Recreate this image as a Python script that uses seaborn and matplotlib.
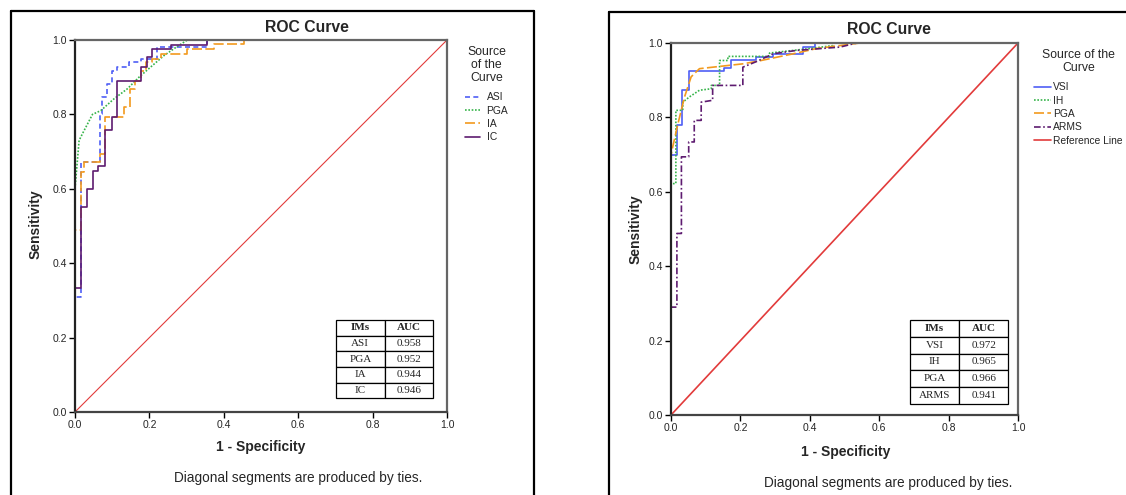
import matplotlib
matplotlib.use("Agg")
import matplotlib.pyplot as plt
import seaborn as sns
from matplotlib.lines import Line2D

# ---- left panel curves (vertices) ----
asi_fpr = [0, 0, 0.017, 0.017, 0.067, 0.067, 0.073, 0.073, 0.087, 0.087, 0.100, 0.100, 0.114, 0.114,
           0.145, 0.145, 0.177, 0.177, 0.221, 0.221, 0.356, 0.356, 1.0]
asi_tpr = [0, 0.31, 0.31, 0.672, 0.672, 0.80, 0.80, 0.846, 0.846, 0.882, 0.882, 0.918, 0.918, 0.927,
           0.927, 0.94, 0.94, 0.95, 0.95, 0.98, 0.98, 1.0, 1.0]
pga_l_fpr = [0, 0, 0.011, 0.020, 0.047, 0.069, 0.105, 0.141, 0.172, 0.203, 0.239, 0.271, 0.302, 1.0]
pga_l_tpr = [0, 0.60, 0.73, 0.748, 0.80, 0.81, 0.842, 0.869, 0.90, 0.927, 0.958, 0.98, 1.0, 1.0]
ia_fpr = [0, 0, 0.017, 0.017, 0.024, 0.024, 0.067, 0.067, 0.081, 0.081, 0.132, 0.132, 0.148, 0.148,
          0.160, 0.160, 0.177, 0.177, 0.190, 0.190, 0.208, 0.208, 0.230, 0.230, 0.302, 0.302, 0.374,
          0.374, 0.454, 0.454, 1.0]
ia_tpr = [0, 0.489, 0.489, 0.645, 0.645, 0.672, 0.672, 0.694, 0.694, 0.793, 0.793, 0.82, 0.82, 0.869,
          0.869, 0.891, 0.891, 0.918, 0.918, 0.94, 0.94, 0.95, 0.95, 0.962, 0.962, 0.977, 0.977,
          0.989, 0.989, 1.0, 1.0]
ic_fpr = [0, 0, 0.017, 0.017, 0.032, 0.032, 0.048, 0.048, 0.063, 0.063, 0.081, 0.081, 0.099, 0.099,
          0.114, 0.114, 0.177, 0.177, 0.193, 0.193, 0.208, 0.208, 0.257, 0.257, 0.356, 0.356, 1.0]
ic_tpr = [0, 0.333, 0.333, 0.551, 0.551, 0.60, 0.60, 0.648, 0.648, 0.66, 0.66, 0.757, 0.757, 0.794,
          0.794, 0.891, 0.891, 0.927, 0.927, 0.954, 0.954, 0.976, 0.976, 0.987, 0.987, 1.0, 1.0]

# ---- right panel curves ----
vsi_fpr = [0, 0, 0.016, 0.016, 0.032, 0.032, 0.053, 0.053, 0.154, 0.154, 0.173, 0.173, 0.246, 0.246,
           0.294, 0.294, 0.381, 0.381, 0.414, 0.414, 1.0]
vsi_tpr = [0, 0.70, 0.70, 0.779, 0.779, 0.875, 0.875, 0.925, 0.925, 0.934, 0.934, 0.953, 0.953, 0.962,
           0.962, 0.97, 0.97, 0.989, 0.989, 1.0, 1.0]
ih_fpr = [0, 0, 0.014, 0.014, 0.034, 0.034, 0.053, 0.082, 0.116, 0.116, 0.140, 0.140, 0.164, 0.164,
          0.284, 0.284, 0.39, 0.467, 0.467, 1.0]
ih_tpr = [0, 0.622, 0.622, 0.819, 0.819, 0.841, 0.855, 0.873, 0.877, 0.886, 0.886, 0.953, 0.953, 0.964,
          0.964, 0.973, 0.984, 0.993, 1.0, 1.0]
pga_r_fpr = [0, 0, 0.019, 0.039, 0.058, 0.082, 0.207, 0.255, 0.352, 0.419, 0.544, 1.0]
pga_r_tpr = [0, 0.70, 0.779, 0.855, 0.909, 0.931, 0.944, 0.952, 0.971, 0.985, 1.0, 1.0]
arms_fpr = [0, 0, 0.017, 0.017, 0.030, 0.030, 0.051, 0.051, 0.067, 0.067, 0.087, 0.087, 0.120, 0.120,
            0.207, 0.207, 0.246, 0.294, 0.361, 0.487, 0.535, 1.0]
arms_tpr = [0, 0.29, 0.29, 0.488, 0.488, 0.694, 0.694, 0.734, 0.734, 0.792, 0.792, 0.841, 0.846, 0.886,
            0.886, 0.935, 0.95, 0.971, 0.98, 0.989, 1.0, 1.0]

ref_line = [0, 1]

# ---- AUC tables ----
left_ims = ["ASI", "PGA", "IA", "IC"]
left_auc = ["0.958", "0.952", "0.944", "0.946"]
right_ims = ["VSI", "IH", "PGA", "ARMS"]
right_auc = ["0.972", "0.965", "0.966", "0.941"]

ticks = [0.0, 0.2, 0.4, 0.6, 0.8, 1.0]

BLUE = "#4f5ff5"
GREEN = "#36b44a"
ORANGE = "#f29a1e"
PURPLE = "#5e1b70"
RED = "#e23b3b"

sns.set_theme(style="white")
plt.rcParams["font.family"] = ["Liberation Sans", "DejaVu Sans"]

W, H = 1126, 495
fig = plt.figure(figsize=(W / 100, H / 100), dpi=100)


def fx(px):
    return px / W


def fy(py):
    return 1 - py / H


ax1 = fig.add_axes([fx(75), fy(412), 372 / W, 372 / H])
ax2 = fig.add_axes([fx(671), fy(415), 347 / W, 372 / H])

kw = dict(estimator=None, sort=False, clip_on=False, linewidth=1.2)

sns.lineplot(x=ref_line, y=ref_line, ax=ax1, color=RED, linewidth=0.8, estimator=None, sort=False)
sns.lineplot(x=asi_fpr, y=asi_tpr, ax=ax1, color=BLUE, label="ASI", **kw)
sns.lineplot(x=pga_l_fpr, y=pga_l_tpr, ax=ax1, color=GREEN, label="PGA", **kw)
sns.lineplot(x=ia_fpr, y=ia_tpr, ax=ax1, color=ORANGE, label="IA", **kw)
sns.lineplot(x=ic_fpr, y=ic_tpr, ax=ax1, color=PURPLE, label="IC", **kw)

sns.lineplot(x=ref_line, y=ref_line, ax=ax2, color=RED, linewidth=1.2, estimator=None, sort=False,
             label="Reference Line")
sns.lineplot(x=vsi_fpr, y=vsi_tpr, ax=ax2, color=BLUE, label="VSI", **kw)
sns.lineplot(x=ih_fpr, y=ih_tpr, ax=ax2, color=GREEN, label="IH", **kw)
sns.lineplot(x=pga_r_fpr, y=pga_r_tpr, ax=ax2, color=ORANGE, label="PGA", **kw)
sns.lineplot(x=arms_fpr, y=arms_tpr, ax=ax2, color=PURPLE, label="ARMS", **kw)

# line styles
styles1 = {"ASI": (0, (3, 2)), "PGA": (0, (1, 1)), "IA": (0, (6, 2)), "IC": "-"}
styles2 = {"VSI": "-", "IH": (0, (1, 1)), "PGA": (0, (6, 2)), "ARMS": (0, (4, 1.5, 1, 1.5)),
           "Reference Line": "-"}
for ax, st in [(ax1, styles1), (ax2, styles2)]:
    for ln in ax.get_lines():
        if ln.get_label() in st:
            ln.set_linestyle(st[ln.get_label()])

for ax in (ax1, ax2):
    ax.set_xlim(0, 1)
    ax.set_ylim(0, 1)
    ax.set_xticks(ticks)
    ax.set_yticks(ticks)
    ax.set_xticklabels([f"{t:.1f}" for t in ticks])
    ax.set_yticklabels([f"{t:.1f}" for t in ticks])
    ax.tick_params(axis="both", which="both", direction="out", length=4, width=1, color="black",
                   labelsize=7.5, pad=2, bottom=True, left=True)
    ax.set_xlabel("")
    ax.set_ylabel("")
    for sp in ax.spines.values():
        sp.set_color("#666666")
        sp.set_linewidth(1.6)
    ax.spines["left"].set_color("#222222")
    ax.spines["bottom"].set_color("#444444")


def make_legend(ax, order, title, anchor, textpad, hlen):
    hd = {ln.get_label(): ln for ln in ax.get_lines()}
    leg = ax.legend([hd[k] for k in order], order, title=title, loc="upper left",
                    bbox_to_anchor=anchor, bbox_transform=fig.transFigure, frameon=False,
                    fontsize=7.4, title_fontsize=8.8, handlelength=hlen, handletextpad=textpad,
                    labelspacing=0.33, borderpad=0, borderaxespad=0, alignment="center")
    leg.get_title().set_multialignment("center")
    leg.get_title().set_linespacing(1.1)
    leg._legend_box.sep = 6
    return leg


make_legend(ax1, ["ASI", "PGA", "IA", "IC"], "Source\nof the\nCurve", (fx(465), fy(46)), 0.6, 1.5)
make_legend(ax2, ["VSI", "IH", "PGA", "ARMS", "Reference Line"], "Source of the\nCurve",
            (fx(1034), fy(49)), 0.15, 1.7)


def auc_table(ax, names, aucs, bbox):
    tb = ax.table(cellText=[[n, a] for n, a in zip(names, aucs)], colLabels=["IMs", "AUC"],
                  cellLoc="center", bbox=bbox)
    tb.auto_set_font_size(False)
    for (r, c), cell in tb.get_celld().items():
        cell.set_linewidth(0.9)
        cell.set_edgecolor("black")
        t = cell.get_text()
        t.set_fontfamily("Liberation Serif")
        t.set_fontsize(8)
        if r == 0:
            t.set_fontweight("bold")
    return tb


auc_table(ax1, left_ims, left_auc, [0.702, 0.037, 0.26, 0.21])
auc_table(ax2, right_ims, right_auc, [0.689, 0.029, 0.283, 0.227])

# texts
fig.text(fx(307), fy(27), "ROC Curve", ha="center", va="center", fontsize=11.3, fontweight="bold")
fig.text(fx(889), fy(30), "ROC Curve", ha="center", va="center", fontsize=11.3, fontweight="bold")
fig.text(fx(261), fy(447), "1 - Specificity", ha="center", va="center", fontsize=10, fontweight="bold")
fig.text(fx(846), fy(452), "1 - Specificity", ha="center", va="center", fontsize=10, fontweight="bold")
fig.text(fx(36), fy(224), "Sensitivity", ha="center", va="center", rotation=90, fontsize=10,
         fontweight="bold")
fig.text(fx(636), fy(229), "Sensitivity", ha="center", va="center", rotation=90, fontsize=10,
         fontweight="bold")
fig.text(fx(298), fy(478), "Diagonal segments are produced by ties.", ha="center", va="center",
         fontsize=9.8)
fig.text(fx(888), fy(483), "Diagonal segments are produced by ties.", ha="center", va="center",
         fontsize=9.8)

# panel frames
frame = dict(color="black", linewidth=1.6, transform=fig.transFigure)
fig.add_artist(Line2D([fx(11), fx(11)], [0, fy(11)], **frame))
fig.add_artist(Line2D([fx(11), fx(534)], [fy(11), fy(11)], **frame))
fig.add_artist(Line2D([fx(534), fx(534)], [0, fy(11)], **frame))
fig.add_artist(Line2D([fx(609), fx(609)], [0, fy(12)], **frame))
fig.add_artist(Line2D([fx(609), 1], [fy(12), fy(12)], **frame))

plt.savefig("out.png", dpi=100)
plt.close()
